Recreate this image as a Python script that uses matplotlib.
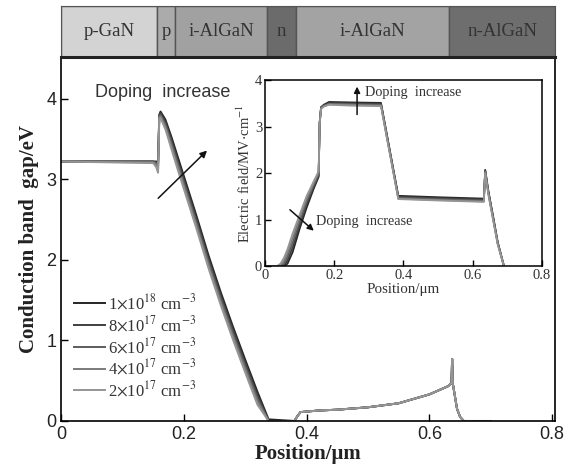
import matplotlib.pyplot as plt
from matplotlib.patches import Rectangle

plt.rcParams["font.family"] = ["Liberation Serif", "DejaVu Serif"]
plt.rcParams["mathtext.fontset"] = "stix"

# layer strip
layer_names = ["p-GaN", "p", "i-AlGaN", "n", "i-AlGaN", "n-AlGaN"]
layer_edges = [0.0, 0.157, 0.186, 0.336, 0.382, 0.632, 0.805]
layer_colors = ["#d3d3d3", "#ababab", "#a1a1a1", "#6b6b6b", "#a3a3a3", "#6e6e6e"]

doping_labels = [r"1$\times$10$^{18}$ cm$^{-3}$", r"8$\times$10$^{17}$ cm$^{-3}$",
                 r"6$\times$10$^{17}$ cm$^{-3}$", r"4$\times$10$^{17}$ cm$^{-3}$",
                 r"2$\times$10$^{17}$ cm$^{-3}$"]
line_colors = ["#262626", "#3f3f3f", "#5c5c5c", "#7a7a7a", "#959595"]

# conduction band (main plot)
xb = [0, 0.150, 0.155, 0.158, 0.160, 0.162, 0.170, 0.180, 0.190, 0.200, 0.220,
      0.240, 0.260, 0.280, 0.300, 0.320, 0.338]
band_1e18 = [3.22, 3.22, 3.22, 3.22, 3.80, 3.84, 3.74, 3.52, 3.28, 3.04, 2.56,
             2.06, 1.60, 1.17, 0.76, 0.36, 0.02]
band_8e17 = [3.22, 3.22, 3.21, 3.18, 3.79, 3.82, 3.71, 3.48, 3.24, 3.00, 2.52,
             2.02, 1.56, 1.13, 0.72, 0.32, 0.00]
band_6e17 = [3.22, 3.22, 3.20, 3.15, 3.78, 3.80, 3.68, 3.45, 3.20, 2.96, 2.48,
             1.98, 1.52, 1.09, 0.68, 0.28, 0.00]
band_4e17 = [3.22, 3.21, 3.18, 3.12, 3.77, 3.78, 3.65, 3.41, 3.16, 2.92, 2.44,
             1.94, 1.48, 1.05, 0.64, 0.24, 0.00]
band_2e17 = [3.22, 3.20, 3.15, 3.08, 3.75, 3.76, 3.62, 3.37, 3.12, 2.88, 2.40,
             1.90, 1.44, 1.01, 0.60, 0.20, 0.00]
# shared tail (curves overlap here)
xb_tail = [0.380, 0.385, 0.390, 0.420, 0.450, 0.500, 0.550, 0.600, 0.630,
           0.636, 0.637, 0.638, 0.645, 0.650, 0.656, 0.700]
band_tail = [0.00, 0.06, 0.11, 0.13, 0.14, 0.17, 0.22, 0.33, 0.43,
             0.47, 0.77, 0.47, 0.15, 0.05, 0.00, 0.00]

# electric field (inset)
xf = [0.000, 0.035, 0.045, 0.055, 0.065, 0.080, 0.100, 0.120, 0.140, 0.155,
      0.158, 0.162, 0.170, 0.185, 0.250, 0.335, 0.385, 0.500, 0.632, 0.636,
      0.645, 0.660, 0.672, 0.690]
field_1e18 = [0, 0, 0, 0, 0.05, 0.30, 0.80, 1.25, 1.65, 1.92, 3.10, 3.42, 3.47,
              3.53, 3.52, 3.51, 1.51, 1.48, 1.45, 2.07, 1.62, 1.02, 0.52, 0]
field_8e17 = [0, 0, 0, 0.01, 0.12, 0.40, 0.88, 1.32, 1.69, 1.95, 3.09, 3.41, 3.46,
              3.51, 3.50, 3.49, 1.49, 1.46, 1.43, 2.05, 1.60, 1.00, 0.50, 0]
field_6e17 = [0, 0, 0, 0.05, 0.20, 0.50, 0.95, 1.38, 1.73, 1.98, 3.08, 3.40, 3.45,
              3.49, 3.48, 3.47, 1.47, 1.44, 1.41, 2.04, 1.58, 0.98, 0.49, 0]
field_4e17 = [0, 0, 0.02, 0.11, 0.28, 0.60, 1.03, 1.44, 1.77, 2.01, 3.06, 3.39, 3.44,
              3.48, 3.47, 3.45, 1.45, 1.42, 1.39, 2.02, 1.56, 0.96, 0.48, 0]
field_2e17 = [0, 0, 0.05, 0.18, 0.36, 0.70, 1.10, 1.50, 1.81, 2.04, 3.05, 3.38, 3.43,
              3.47, 3.45, 3.44, 1.44, 1.41, 1.38, 2.00, 1.54, 0.94, 0.47, 0]

bands = [band_1e18, band_8e17, band_6e17, band_4e17, band_2e17]
fields = [field_1e18, field_8e17, field_6e17, field_4e17, field_2e17]

fig = plt.figure(figsize=(5.76, 4.73), dpi=100)

# -------- main axes --------
ax = fig.add_axes([0.106, 0.110, 0.858, 0.770])
for lab, col, yv in zip(doping_labels, line_colors, bands):
    ax.plot(xb + xb_tail, yv + band_tail, color=col, lw=1.4, label=lab)
ax.set_xlim(0, 0.805)
ax.set_ylim(0, 4.52)
ax.set_xticks([0, 0.2, 0.4, 0.6, 0.8])
ax.set_xticklabels(["0", "0.2", "0.4", "0.6", "0.8"])
ax.set_yticks([0, 1, 2, 3, 4])
ax.tick_params(direction="in", length=5, width=1, labelsize=13)
for t in ax.get_xticklabels() + ax.get_yticklabels():
    t.set_fontfamily("Liberation Sans")
    t.set_color("#222222")
ax.set_xlabel("Position/μm", fontsize=15, fontweight="bold", labelpad=1,
              color="#222222")
ax.set_ylabel("Conduction band  gap/eV", fontsize=15, fontweight="bold",
              labelpad=5, color="#222222")
for s in ax.spines.values():
    s.set_linewidth(1.2)

ax.text(0.055, 4.08, "Doping  increase", fontsize=13, color="#333333",
        fontfamily="Liberation Sans", va="center")
ax.annotate("", xy=(0.241, 3.38), xytext=(0.155, 2.74),
            arrowprops=dict(arrowstyle="-|>", color="#111111", lw=1.1,
                            mutation_scale=10))

leg = ax.legend(loc="upper left", bbox_to_anchor=(0.012, 0.37), frameon=False,
                fontsize=12, handlelength=1.9, handletextpad=0.15,
                labelspacing=0.12, borderaxespad=0)
for t in leg.get_texts():
    t.set_color("#333333")

# -------- layer strip --------
sx = fig.add_axes([0.106, 0.880, 0.858, 0.108])
for i, name in enumerate(layer_names):
    x0, x1 = layer_edges[i], layer_edges[i + 1]
    sx.add_patch(Rectangle((x0, 0), x1 - x0, 1, facecolor=layer_colors[i],
                           edgecolor="#555555", lw=1.0))
    sx.text((x0 + x1) / 2, 0.5, name, ha="center", va="center",
            fontsize=13.5, color="#333333")
sx.set_xlim(0, 0.805)
sx.set_ylim(0, 1)
sx.set_xticks([])
sx.set_yticks([])
for s in sx.spines.values():
    s.set_color("#555555")
sx.spines["bottom"].set_linewidth(2.2)
sx.spines["bottom"].set_color("#222222")

# -------- inset --------
ins = fig.add_axes([0.460, 0.4376, 0.481, 0.393])
for col, yv in zip(line_colors, fields):
    ins.plot(xf, yv, color=col, lw=1.3)
ins.set_xlim(0, 0.8)
ins.set_ylim(0, 4)
ins.set_xticks([0, 0.2, 0.4, 0.6, 0.8])
ins.set_xticklabels(["0", "0.2", "0.4", "0.6", "0.8"])
ins.set_yticks([0, 1, 2, 3, 4])
ins.tick_params(direction="in", length=4, width=1, labelsize=10.5, pad=2,
                labelcolor="#333333")
ins.set_xlabel("Position/μm", fontsize=10.8, color="#333333", labelpad=1)
ins.set_ylabel(r"Electric field/MV$\cdot$cm$^{-1}$", fontsize=10.5,
               color="#333333", labelpad=1)
for s in ins.spines.values():
    s.set_linewidth(1.1)

ins.annotate("", xy=(0.266, 3.92), xytext=(0.266, 3.2),
             arrowprops=dict(arrowstyle="-|>", color="#111111", lw=1.1,
                             mutation_scale=9))
ins.text(0.29, 3.74, "Doping  increase", fontsize=10.3, color="#333333", va="center")
ins.annotate("", xy=(0.147, 0.72), xytext=(0.066, 1.25),
             arrowprops=dict(arrowstyle="-|>", color="#111111", lw=1.1,
                             mutation_scale=9))
ins.text(0.148, 0.96, "Doping  increase", fontsize=10.3, color="#333333", va="center")

fig.savefig("out.png", dpi=100)
